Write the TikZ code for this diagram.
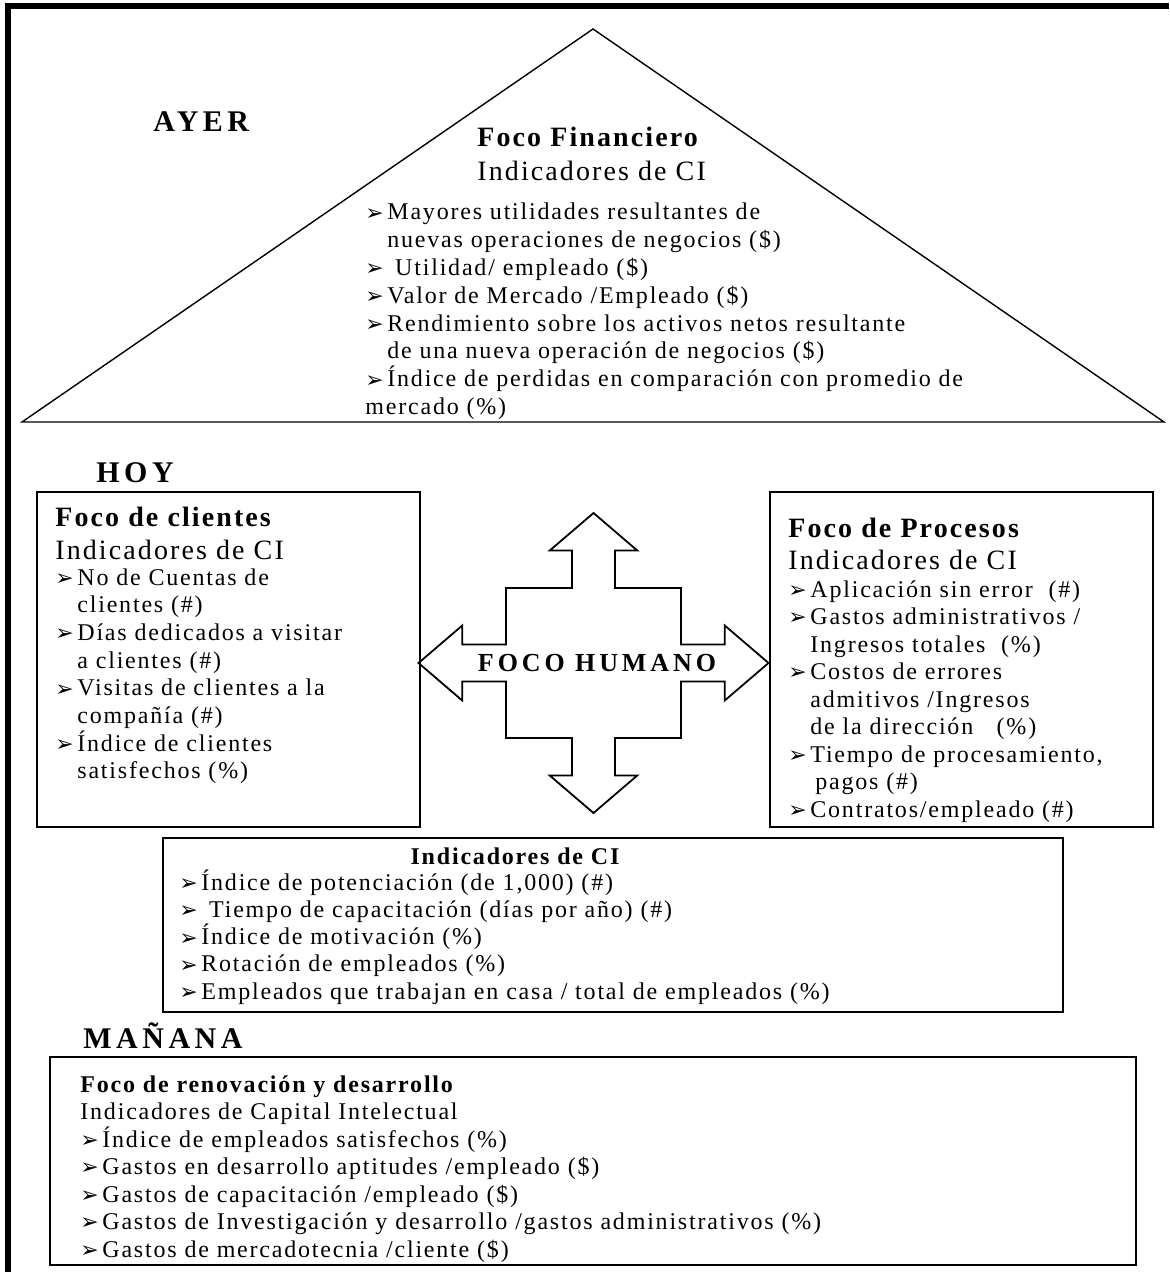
\documentclass[tikz,border=0pt]{standalone}
\usepackage{fontspec}
\setmainfont{Liberation Serif}[LetterSpace=7.5]
\newfontfamily\headfont{Liberation Serif}[LetterSpace=15]
\newfontfamily\symfont{DejaVu Sans}
\usetikzlibrary{positioning}
\newcommand{\bl}{\makebox[11pt][l]{\symfont\fontsize{11}{11}\selectfont\raisebox{-0.2pt}{➢}}}
\newcommand{\ind}{\hspace*{11pt}}

\begin{document}
\begin{tikzpicture}[x=0.5pt, y=-0.5pt,
  box/.style={draw, line width=0.8pt, inner sep=0pt},
  txt/.style={anchor=base west, inner sep=0pt, font=\fontsize{12}{13.8}\selectfont},
  ttl/.style={anchor=base west, inner sep=0pt, font=\fontsize{14}{16}\selectfont},
  head/.style={anchor=base west, inner sep=0pt, font=\headfont\bfseries\fontsize{15}{18}\selectfont}]
\useasboundingbox (0,0) rectangle (1169,1272);
% frame and roof
\draw[line width=3pt] (8,1272) -- (8,6) -- (1169,6);
\draw[line width=0.7pt] (593,29) -- (1164,422) -- (22,422) -- cycle;
% boxes
\node[box, minimum width=191.5pt, minimum height=167.5pt] (clientes) at (228.5,659.5) {};
\node[box, minimum width=191.5pt, minimum height=167.5pt] (procesos) at (961.5,659.5) {};
\node[box, minimum width=450pt, minimum height=87pt] (humanos) at (613,925) {};
\node[box, minimum width=543pt, minimum height=104pt] (renov) at (593,1161) {};
% cross arrow
\begin{scope}[shift={(593.5,663)}, xscale=175, yscale=150]
\draw[line width=0.9pt, line join=miter]
  (1,0) -- (0.75,0.25) -- (0.75,0.123) -- (0.5,0.123) -- (0.5,0.5) -- (0.123,0.5)
  -- (0.123,0.75) -- (0.25,0.75) -- (0,1) -- (-0.25,0.75) -- (-0.123,0.75) -- (-0.123,0.5)
  -- (-0.5,0.5) -- (-0.5,0.123) -- (-0.75,0.123) -- (-0.75,0.25) -- (-1,0) -- (-0.75,-0.25)
  -- (-0.75,-0.123) -- (-0.5,-0.123) -- (-0.5,-0.5) -- (-0.123,-0.5) -- (-0.123,-0.75)
  -- (-0.25,-0.75) -- (0,-1) -- (0.25,-0.75) -- (0.123,-0.75) -- (0.123,-0.5) -- (0.5,-0.5)
  -- (0.5,-0.123) -- (0.75,-0.123) -- (0.75,-0.25) -- cycle;
\end{scope}
\node[inner sep=0pt, font=\headfont\bfseries\fontsize{13}{15}\selectfont] (humano) at (597,663) {FOCO HUMANO};
% headings
\node[head] (ayer) at (153,132) {AYER};
\node[head] (hoy) at (96,482) {HOY};
\node[head] (manana) at (83,1048) {MAÑANA};
% financiero
\node[ttl] (finT) at (477,147) {\bfseries Foco Financiero};
\node[ttl] (finS) at (477,181) {Indicadores de CI};
\foreach \t [count=\i from 0] in {
  {\bl Mayores utilidades resultantes de},
  {\ind nuevas operaciones de negocios (\$)},
  {\bl\ Utilidad/ empleado (\$)},
  {\bl Valor de Mercado /Empleado (\$)},
  {\bl Rendimiento sobre los activos netos resultante},
  {\ind de una nueva operación de negocios (\$)},
  {\bl Índice de perdidas en comparación con promedio de},
  {mercado (\%)}}
  \node[txt] (fin\i) at (365,220+27.8*\i) {\t};
% clientes
\node[ttl] (cliT) at (55,526) {\bfseries Foco de clientes};
\node[ttl] (cliS) at (55,559) {Indicadores de CI};
\foreach \t [count=\i from 0] in {
  {\bl No de Cuentas de},
  {\ind clientes (\#)},
  {\bl Días dedicados a visitar},
  {\ind a clientes (\#)},
  {\bl Visitas de clientes a la},
  {\ind compañía (\#)},
  {\bl Índice de clientes},
  {\ind satisfechos (\%)}}
  \node[txt] (cli\i) at (55,585+27.7*\i) {\t};
% procesos
\node[ttl] (proT) at (788,537) {\bfseries Foco de Procesos};
\node[ttl] (proS) at (788,569) {Indicadores de CI};
\foreach \t [count=\i from 0] in {
  {\bl Aplicación sin error\ \ (\#)},
  {\bl Gastos administrativos /},
  {\ind Ingresos totales\ \ (\%)},
  {\bl Costos de errores},
  {\ind admitivos /Ingresos},
  {\ind de la dirección\ \ \ (\%)},
  {\bl Tiempo de procesamiento,},
  {\ind\hspace*{2.5pt}pagos (\#)},
  {\bl Contratos/empleado (\#)}}
  \node[txt] (pro\i) at (788,597+27.5*\i) {\t};
% humano
\node[txt, anchor=base, font=\fontsize{12}{13.8}\selectfont\bfseries] (humT) at (515,864) {Indicadores de CI};
\foreach \t [count=\i from 0] in {
  {\bl Índice de potenciación (de 1,000) (\#)},
  {\bl\ Tiempo de capacitación (días por año) (\#)},
  {\bl Índice de motivación (\%)},
  {\bl Rotación de empleados (\%)},
  {\bl Empleados que trabajan en casa / total de empleados (\%)}}
  \node[txt] (hum\i) at (179,890+27.3*\i) {\t};
% renovacion
\node[txt, font=\fontsize{12}{13.8}\selectfont\bfseries] (renT) at (80,1092) {Foco de renovación y desarrollo};
\node[txt] (renS) at (80,1119.5) {Indicadores de Capital Intelectual};
\foreach \t [count=\i from 0] in {
  {\bl Índice de empleados satisfechos (\%)},
  {\bl Gastos en desarrollo aptitudes /empleado (\$)},
  {\bl Gastos de capacitación /empleado (\$)},
  {\bl Gastos de Investigación y desarrollo /gastos administrativos (\%)},
  {\bl Gastos de mercadotecnia /cliente (\$)}}
  \node[txt] (ren\i) at (80,1147+27.5*\i) {\t};
\end{tikzpicture}
\end{document}
